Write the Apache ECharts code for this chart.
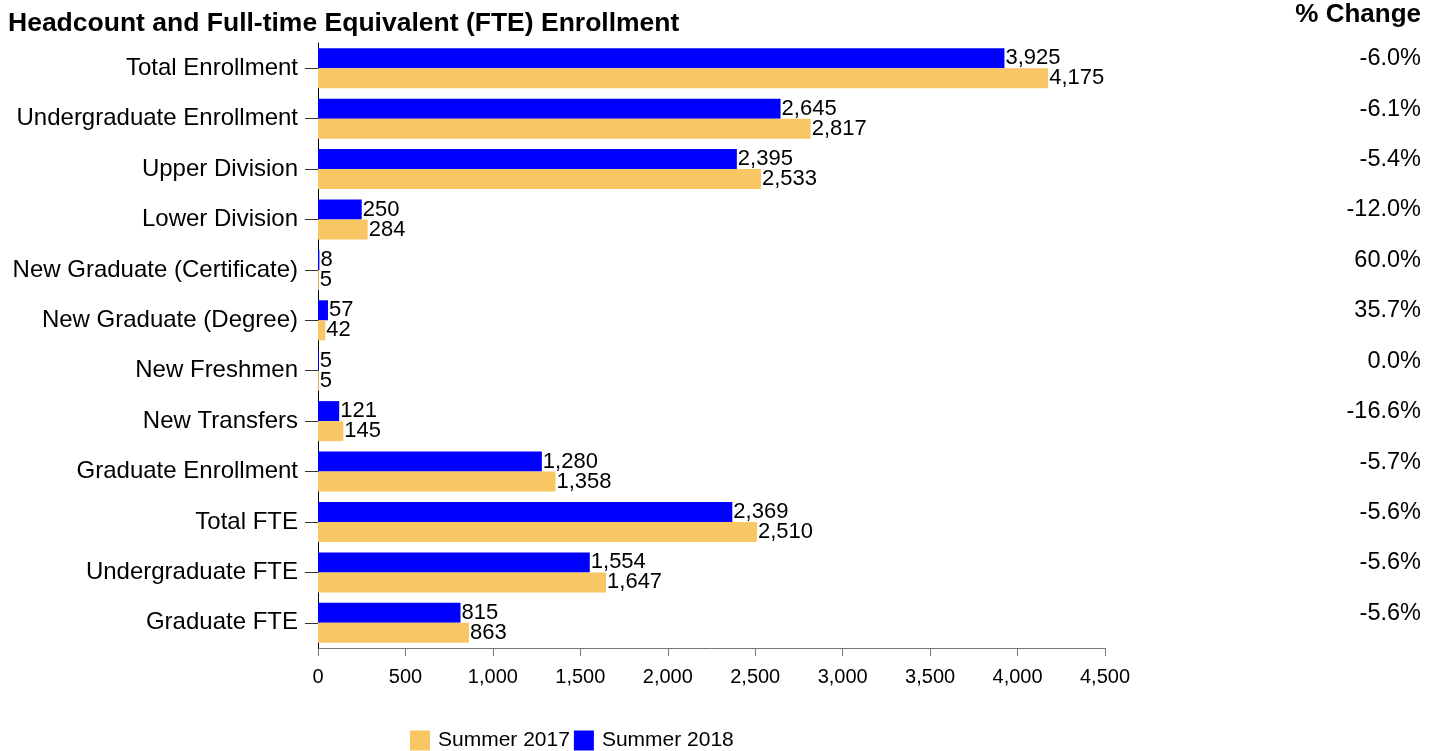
<!DOCTYPE html>
<html>
<head>
<meta charset="utf-8">
<script src="https://cdn.jsdelivr.net/npm/echarts@6/dist/echarts.min.js"></script>
<style>
    html, body { margin: 0; padding: 0; background: #fff; }
    #chart { width: 1438px; height: 751px; }
</style>
</head>
<body>
<div id="chart"></div>
<script>
const categories = [
    "Total Enrollment", "Undergraduate Enrollment", "Upper Division", "Lower Division",
    "New Graduate (Certificate)", "New Graduate (Degree)", "New Freshmen", "New Transfers",
    "Graduate Enrollment", "Total FTE", "Undergraduate FTE", "Graduate FTE"
]
const summer2017 = [4175, 2817, 2533, 284, 5, 42, 5, 145, 1358, 2510, 1647, 863]
const summer2018 = [3925, 2645, 2395, 250, 8, 57, 5, 121, 1280, 2369, 1554, 815]
const pctChange = ["-6.0%", "-6.1%", "-5.4%", "-12.0%", "60.0%", "35.7%", "0.0%", "-16.6%", "-5.7%", "-5.6%", "-5.6%", "-5.6%"]

const FONT = "'Liberation Sans', Arial, sans-serif"
const fmt = (v) => Number(v).toLocaleString("en-US")

const chart = echarts.init(document.getElementById("chart"))

function barLabel() {
    return {
        show: true,
        position: "right",
        distance: 1,
        color: "#000",
        fontFamily: FONT,
        fontSize: 22,
        formatter: (p) => fmt(p.value)
    }
}

const option = {
    animation: false,
    textStyle: { fontFamily: FONT },
    title: [{
        text: "Headcount and Full-time Equivalent (FTE) Enrollment",
        left: 8,
        top: 10,
        padding: 0,
        textStyle: { fontFamily: FONT, fontSize: 26.5, fontWeight: "bold", color: "#000" }
    }, {
        text: "% Change",
        right: 17,
        top: 2,
        padding: 0,
        textStyle: { fontFamily: FONT, fontSize: 26, fontWeight: "bold", color: "#000" }
    }],
    legend: {
        left: 405,
        top: 725,
        itemWidth: 20,
        itemHeight: 20,
        itemGap: 4,
        icon: "rect",
        data: ["Summer 2017", "Summer 2018"],
        textStyle: { fontFamily: FONT, fontSize: 21, color: "#000", padding: [0, 0, 0, 3] }
    },
    grid: {
        left: 318,
        right: 333,
        top: 43,
        bottom: 103,
        containLabel: false
    },
    xAxis: {
        type: "value",
        min: 0,
        max: 4500,
        interval: 500,
        axisLine: { show: true, lineStyle: { color: "#777", width: 1 } },
        axisTick: { show: true, length: 8, lineStyle: { color: "#777" } },
        splitLine: { show: false },
        axisLabel: {
            color: "#000",
            fontFamily: FONT,
            fontSize: 20,
            margin: 19,
            formatter: (v) => fmt(v)
        }
    },
    yAxis: [{
        type: "category",
        data: categories,
        inverse: true,
        axisLine: { show: true, lineStyle: { color: "#000", width: 1 } },
        axisTick: { show: true, length: 13, alignWithLabel: true, lineStyle: { color: "#333" } },
        axisLabel: {
            interval: 0,
            color: "#000",
            fontFamily: FONT,
            fontSize: 24,
            margin: 20
        }
    }, {
        // % change column, drawn as a right-hand category axis
        type: "category",
        data: pctChange,
        inverse: true,
        position: "right",
        axisLine: { show: false },
        axisTick: { show: false },
        axisLabel: {
            interval: 0,
            align: "right",
            verticalAlign: "bottom",
            lineHeight: 19,
            margin: 316,
            color: "#000",
            fontFamily: FONT,
            fontSize: 23.5
        }
    }],
    series: [{
        name: "Summer 2018",
        type: "bar",
        data: summer2018,
        barWidth: 20,
        barGap: "0%",
        itemStyle: { color: "#0000FF" },
        label: barLabel()
    }, {
        name: "Summer 2017",
        type: "bar",
        data: summer2017,
        barWidth: 20,
        barGap: "0%",
        itemStyle: { color: "#F8C663" },
        label: barLabel()
    }]
}

chart.setOption(option)
</script>
</body>
</html>
